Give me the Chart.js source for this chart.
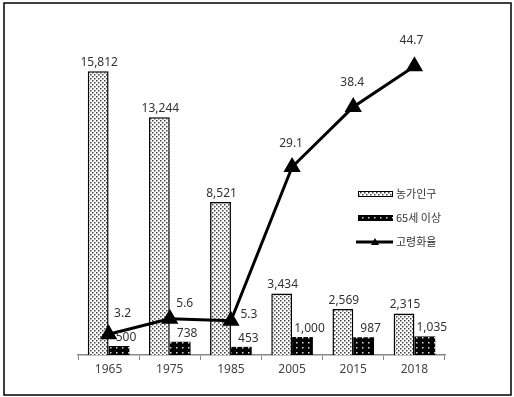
<!DOCTYPE html>
<html>
<head>
<meta charset="utf-8">
<script src="https://cdn.jsdelivr.net/npm/chart.js@4.4.1/dist/chart.umd.min.js"></script>
<style>
  html, body { margin: 0; padding: 0; background: #fff; }
  canvas { display: block; }
</style>
</head>
<body>
<canvas id="myChart" width="514" height="397"></canvas>
<script>
// 데이터
const years = ['1965', '1975', '1985', '2005', '2015', '2018'];
const farmPop = [15812, 13244, 8521, 3434, 2569, 2315];
const over65 = [500, 738, 453, 1000, 987, 1035];
const agingRate = [3.2, 5.6, 5.3, 29.1, 38.4, 44.7];

// 점무늬 패턴 만들기
function dotPattern(bg, fg, w, h, dots) {
    const c = document.createElement('canvas');
    c.width = w;
    c.height = h;
    const g = c.getContext('2d');
    g.fillStyle = bg;
    g.fillRect(0, 0, w, h);
    g.fillStyle = fg;
    dots.forEach(d => g.fillRect(d[0], d[1], 1.5, 1.5));
    return g.createPattern(c, 'repeat');
}
const lightFill = dotPattern('#ffffff', '#444444', 4, 4, [[0, 0], [2, 2]]);
const darkFill = dotPattern('#000000', '#dddddd', 6, 5, [[2, 2]]);

// 값 라벨
const valueLabels = {
    id: 'valueLabels',
    afterDatasetsDraw(chart, args, opts) {
        const ctx = chart.ctx;
        ctx.save();
        ctx.font = '12px "Noto Sans"';
        ctx.fillStyle = '#333';
        ctx.textAlign = 'center';
        ctx.textBaseline = 'alphabetic';
        chart.data.datasets.forEach((ds, i) => {
            const meta = chart.getDatasetMeta(i);
            meta.data.forEach((el, j) => {
                const v = ds.data[j];
                if (ds.type === 'line') {
                    const o = opts.lineOffsets[j];
                    ctx.fillText(v.toFixed(1), el.x + o[0], el.y + o[1]);
                } else {
                    const dx = i === 1 ? 7 : 1;
                    ctx.fillText(v.toLocaleString('en-US'), el.x + dx, el.y - 5);
                }
            });
        });
        ctx.restore();
    }
};

// 범례 + 테두리
const sideLegend = {
    id: 'sideLegend',
    afterDraw(chart) {
        const ctx = chart.ctx;
        ctx.save();
        ctx.strokeStyle = '#000';
        ctx.lineWidth = 1.5;
        ctx.strokeRect(4, 3, 507, 392);

        const x = 358, w = 35;
        ctx.font = '11px "Noto Sans CJK KR"';
        ctx.fillStyle = '#333';
        ctx.textBaseline = 'middle';

        ctx.fillStyle = lightFill;
        ctx.fillRect(x, 191, w, 6);
        ctx.lineWidth = 1;
        ctx.strokeRect(x + 0.5, 191.5, w - 1, 5);
        ctx.fillStyle = '#333';
        ctx.fillText('농가인구', x + 38, 194);

        ctx.fillStyle = darkFill;
        ctx.fillRect(x, 215, w, 6);
        ctx.fillStyle = '#333';
        ctx.fillText('65세 이상', x + 38, 218);

        ctx.strokeStyle = '#000';
        ctx.lineWidth = 3;
        ctx.beginPath();
        ctx.moveTo(x - 2, 242);
        ctx.lineTo(x + w, 242);
        ctx.stroke();
        ctx.fillStyle = '#000';
        ctx.beginPath();
        ctx.moveTo(x + 17, 238);
        ctx.lineTo(x + 21, 245);
        ctx.lineTo(x + 13, 245);
        ctx.closePath();
        ctx.fill();
        ctx.fillStyle = '#333';
        ctx.fillText('고령화율', x + 38, 242);
        ctx.restore();
    }
};

const ctx = document.getElementById('myChart');
new Chart(ctx, {
    data: {
        labels: years,
        datasets: [{
            type: 'bar',
            label: '농가인구',
            data: farmPop,
            backgroundColor: lightFill,
            borderColor: '#000',
            borderWidth: 1.5,
            yAxisID: 'y',
            order: 1
        }, {
            type: 'bar',
            label: '65세 이상',
            data: over65,
            backgroundColor: darkFill,
            borderColor: '#000',
            borderWidth: 0,
            yAxisID: 'y',
            order: 1
        }, {
            type: 'line',
            label: '고령화율',
            data: agingRate,
            borderColor: '#000',
            borderWidth: 3,
            pointStyle: 'triangle',
            pointRadius: 7,
            pointBackgroundColor: '#000',
            pointBorderColor: '#000',
            yAxisID: 'y1',
            order: 0
        }]
    },
    options: {
        responsive: false,
        animation: false,
        layout: {
            padding: { left: 78, right: 69, top: 32, bottom: 0 }
        },
        datasets: {
            bar: { categoryPercentage: 0.68, barPercentage: 1.0 }
        },
        scales: {
            x: {
                offset: true,
                grid: {
                    display: true,
                    drawOnChartArea: false,
                    drawTicks: true,
                    tickLength: 5,
                    color: '#888'
                },
                border: { display: true, color: '#888', width: 1.5 },
                ticks: {
                    padding: 2,
                    color: '#444',
                    font: { family: 'Noto Sans', size: 12 }
                },
                afterFit(axis) { axis.height = 42; }
            },
            y: { display: false, min: 0, max: 18000 },
            y1: { display: false, min: 0, max: 50, position: 'right' }
        },
        plugins: {
            legend: { display: false },
            tooltip: { enabled: false },
            valueLabels: {
                lineOffsets: [[14, -17], [15, -12], [18, -3], [-1, -20], [-1, -21], [-3, -22]]
            }
        }
    },
    plugins: [valueLabels, sideLegend]
});
</script>
</body>
</html>
